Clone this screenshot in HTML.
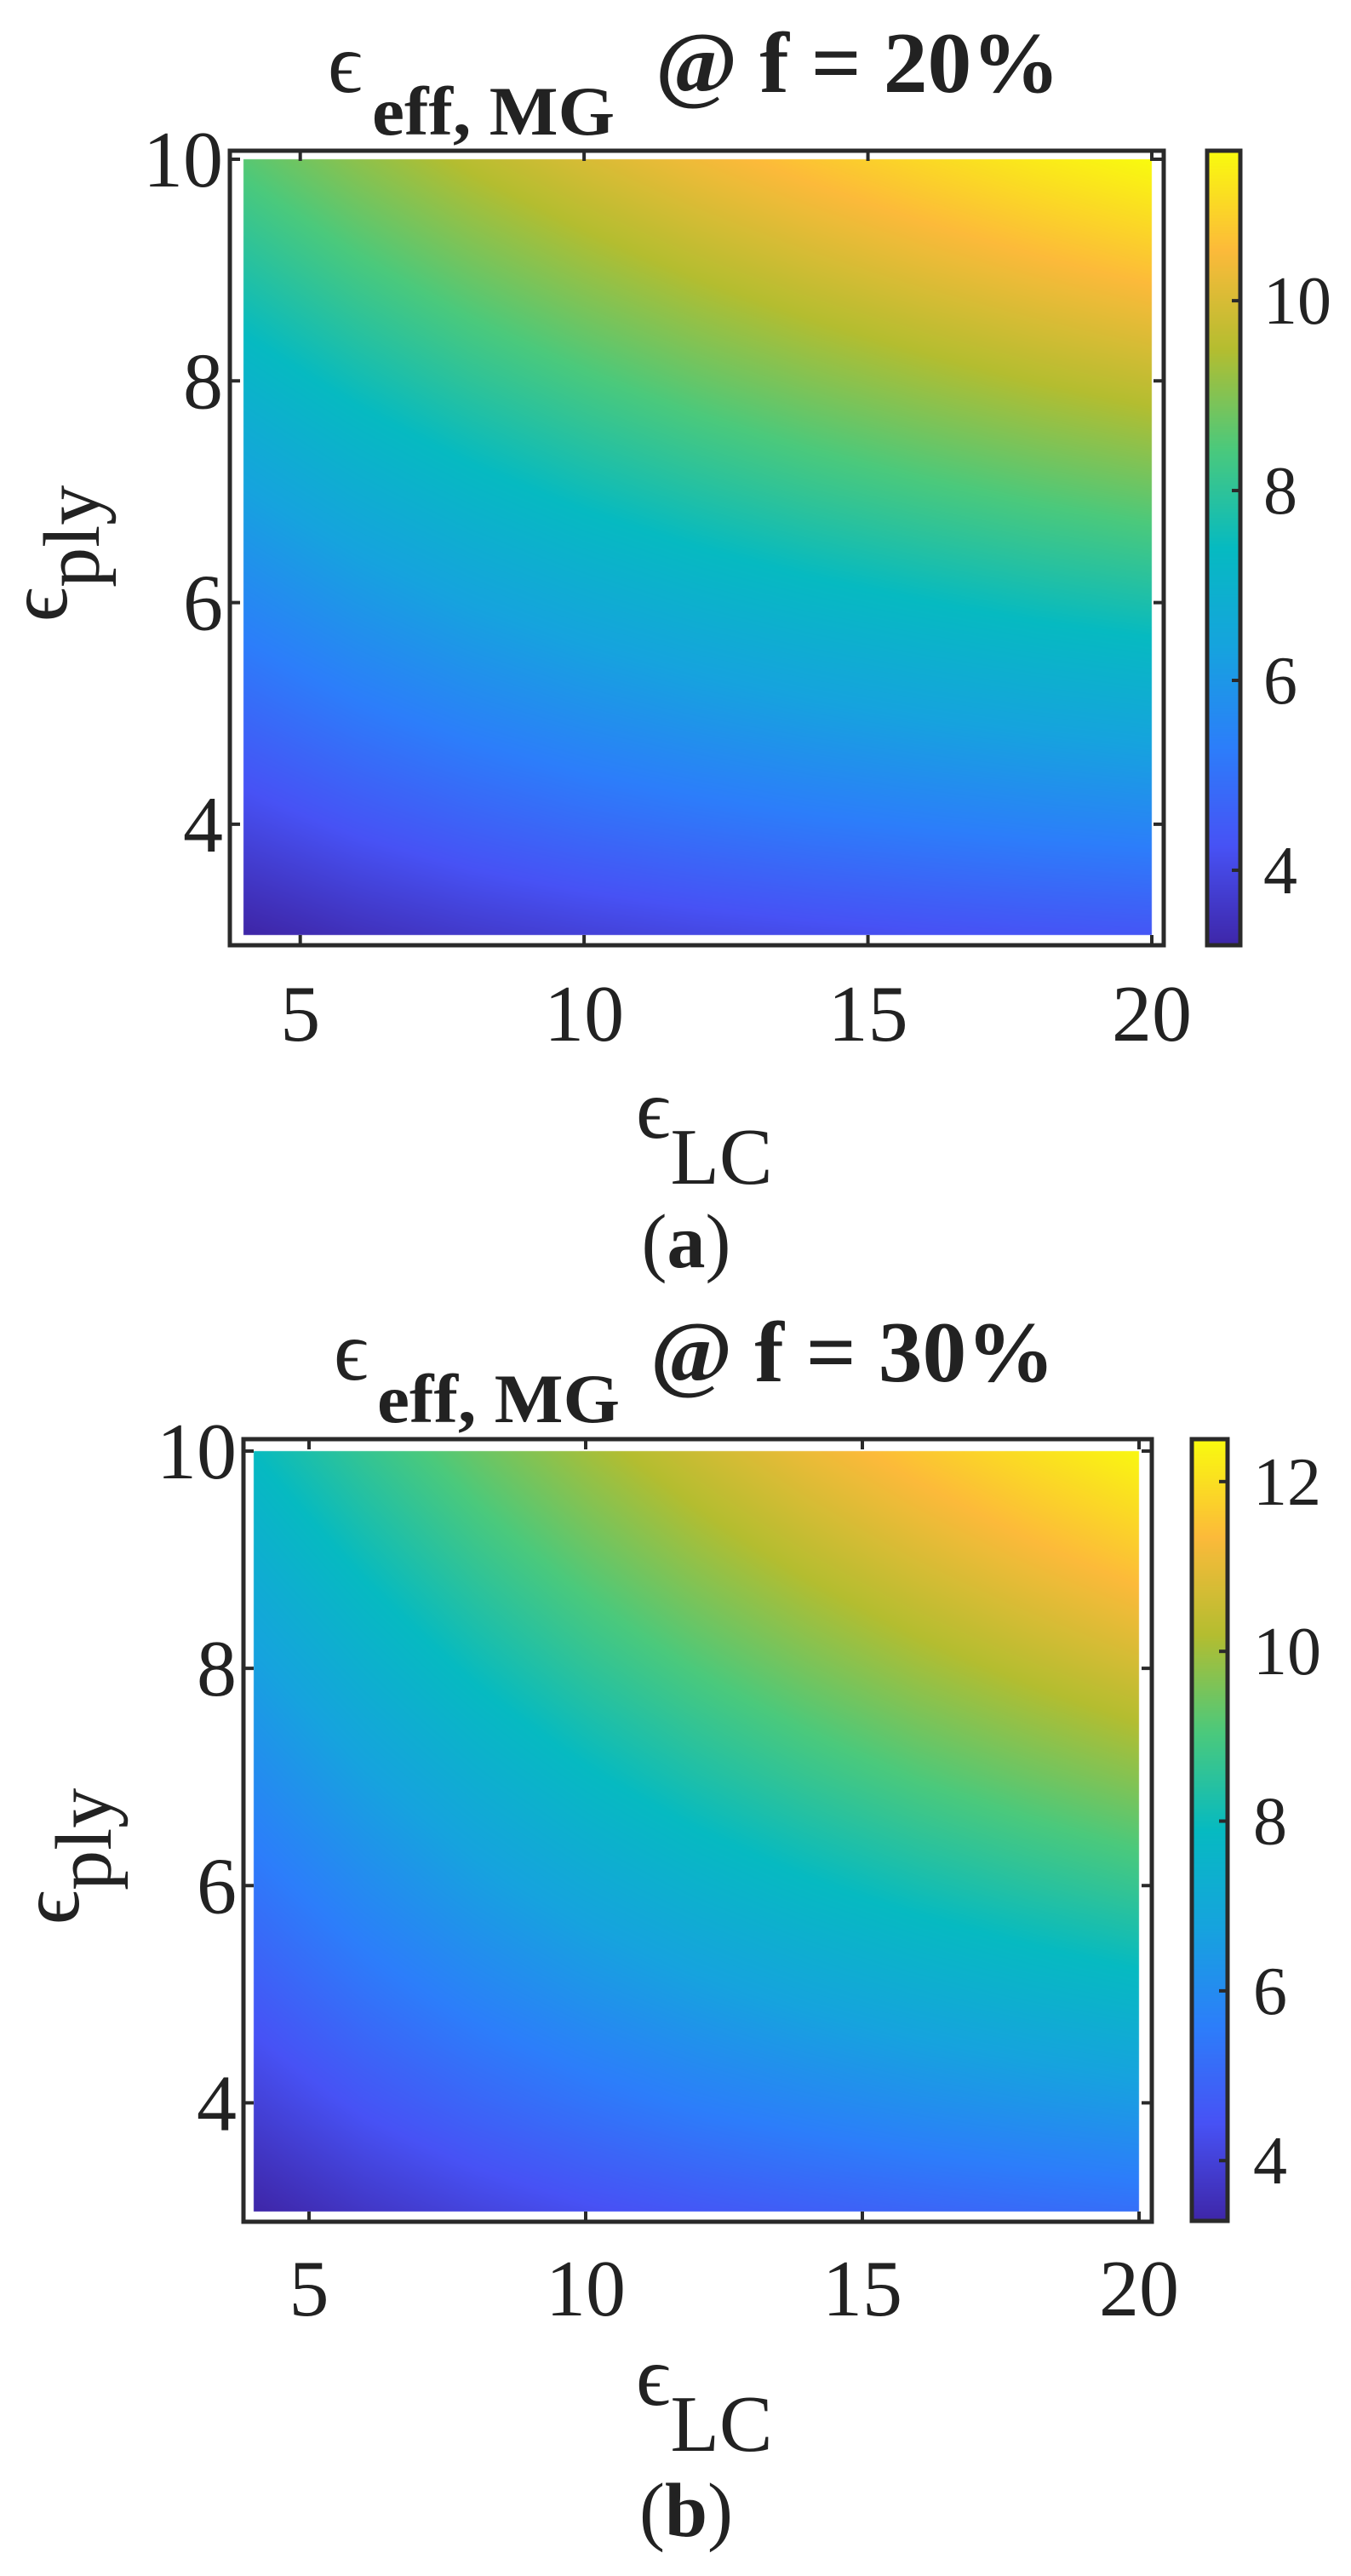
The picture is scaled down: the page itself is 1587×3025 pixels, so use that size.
<!DOCTYPE html>
<html><head><meta charset="utf-8"><style>
html,body{margin:0;padding:0;background:#fff;}
#wrap{position:relative;width:1587px;height:3025px;overflow:hidden;}
canvas,svg{position:absolute;left:0;top:0;}
text{font-family:"Liberation Serif","DejaVu Serif",serif;fill:#222;}
</style></head><body>
<div id="wrap">
<canvas id="cv" width="1587" height="3025"></canvas>
<svg id="sv" width="1587" height="3025" xmlns="http://www.w3.org/2000/svg"></svg>
</div>
<script>
// ---- data ----
const xCats = [4,6,8,10,12,14,16,18,20];      // epsilon_LC grid
const yCats = [3,4,5,6,7,8,9,10];             // epsilon_ply grid
const xTicks = [5,10,15,20];
const yTicks = [4,6,8,10];
// plot (a) f=20%, rows by epsilon_ply (3..10), columns by epsilon_LC (4..20)
const valsA = [
 [3.18,3.47,3.69,3.86,4.00,4.11,4.21,4.29,4.35],
 [4.00,4.35,4.63,4.86,5.04,5.20,5.33,5.45,5.55],
 [4.79,5.19,5.52,5.79,6.02,6.22,6.39,6.54,6.67],
 [5.56,6.00,6.37,6.68,6.95,7.18,7.38,7.57,7.73],
 [6.32,6.79,7.19,7.54,7.84,8.11,8.34,8.55,8.74],
 [7.08,7.57,8.00,8.37,8.71,9.00,9.26,9.50,9.71],
 [7.83,8.34,8.79,9.19,9.55,9.87,10.16,10.42,10.66],
 [8.57,9.10,9.58,10.00,10.38,10.72,11.03,11.32,11.58]
];
// plot (b) f=30%
const valsB = [
 [3.28,3.73,4.08,4.36,4.59,4.78,4.94,5.08,5.20],
 [4.00,4.54,4.97,5.33,5.64,5.89,6.12,6.31,6.48],
 [4.69,5.29,5.79,6.22,6.58,6.90,7.18,7.43,7.65],
 [5.35,6.00,6.56,7.04,7.46,7.83,8.16,8.45,8.72],
 [6.00,6.69,7.29,7.82,8.29,8.70,9.08,9.41,9.72],
 [6.64,7.36,8.00,8.57,9.07,9.53,9.95,10.32,10.67],
 [7.28,8.02,8.69,9.29,9.84,10.33,10.78,11.19,11.57],
 [7.91,8.68,9.37,10.00,10.57,11.10,11.58,12.02,12.43]
];
const cbTicksA = [4,6,8,10];
const cbTicksB = [4,6,8,10,12];
const cbRangeA = [3.21,11.58];
const cbRangeB = [3.29,12.5];
const titleA = "@ f = 20%";
const titleB = "@ f = 30%";

// ---- layout (pixels) ----
const plots = [
 {id:'a', vals:valsA, cbTicks:cbTicksA, cbRange:cbRangeA, title:titleA, label:'a',
  box:[270,177,1367,1110], data:[286,187,1353,1098], cb:[1418,177,1457,1110], cbLab:1484,
  xLabY:1222, tEps:[385,108], tSub:[437,158], tAt:[770,108], yl:[78,650], xl:[747,1336], cap:1488},
 {id:'b', vals:valsB, cbTicks:cbTicksB, cbRange:cbRangeB, title:titleB, label:'b',
  box:[286,1690,1353,2609], data:[298,1704,1338,2597], cb:[1400,1690,1442,2608], cbLab:1472,
  xLabY:2719, tEps:[392,1620], tSub:[443,1670], tAt:[764,1622], yl:[92,2180], xl:[747,2824], cap:2978}
];

const stops=[[0,[62,38,168]],[0.125,[71,82,245]],[0.25,[44,126,250]],[0.375,[22,163,222]],
 [0.5,[6,186,193]],[0.625,[75,201,124]],[0.75,[180,189,48]],[0.875,[252,186,58]],[1,[249,251,14]]];
function parula(t){t=Math.max(0,Math.min(1,t));for(let i=1;i<stops.length;i++){if(t<=stops[i][0]){const a=stops[i-1],b=stops[i];const u=(t-a[0])/(b[0]-a[0]);return [0,1,2].map(k=>Math.round(a[1][k]+(b[1][k]-a[1][k])*u));}}return stops[stops.length-1][1];}

const NS="http://www.w3.org/2000/svg";
const svg=document.getElementById('sv');
const ctx=document.getElementById('cv').getContext('2d');
function mk(tag,attrs,parent){const e=document.createElementNS(NS,tag);for(const k in attrs)e.setAttribute(k,attrs[k]);(parent||svg).appendChild(e);return e;}

function sample(vals,xv,yv){
  let i=0;while(i<xCats.length-2&&xv>xCats[i+1])i++;
  let j=0;while(j<yCats.length-2&&yv>yCats[j+1])j++;
  const u=(xv-xCats[i])/(xCats[i+1]-xCats[i]), w=(yv-yCats[j])/(yCats[j+1]-yCats[j]);
  const a=vals[j][i],b=vals[j][i+1],c=vals[j+1][i],d=vals[j+1][i+1];
  return (a*(1-u)+b*u)*(1-w)+(c*(1-u)+d*u)*w;
}

plots.forEach(p=>{
  const [dx0,dy0,dx1,dy1]=p.data;
  const xMin=xCats[0],xMax=xCats[xCats.length-1],yMin=yCats[0],yMax=yCats[yCats.length-1];
  const xs=v=>dx0+(v-xMin)/(xMax-xMin)*(dx1-dx0);
  const ys=v=>dy1-(v-yMin)/(yMax-yMin)*(dy1-dy0);
  const xinv=px=>xMin+(px-dx0)/(dx1-dx0)*(xMax-xMin);
  const yinv=py=>yMin+(dy1-py)/(dy1-dy0)*(yMax-yMin);
  const [c0,c1]=p.cbRange;
  const W=dx1-dx0,H=dy1-dy0;const img=ctx.createImageData(W,H);
  for(let py=0;py<H;py++){const yv=yinv(dy0+py+0.5);for(let px=0;px<W;px++){
    const v=sample(p.vals,xinv(dx0+px+0.5),yv);const c=parula((v-c0)/(c1-c0));const o=(py*W+px)*4;
    img.data[o]=c[0];img.data[o+1]=c[1];img.data[o+2]=c[2];img.data[o+3]=255;}}
  ctx.putImageData(img,dx0,dy0);
  const [bx0,by0,bx1,by1]=p.cb;const cs=v=>by1-(v-c0)/(c1-c0)*(by1-by0);
  for(let py=by0;py<by1;py++){const v=c0+(by1-py)/(by1-by0)*(c1-c0);const c=parula((v-c0)/(c1-c0));ctx.fillStyle=`rgb(${c[0]},${c[1]},${c[2]})`;ctx.fillRect(bx0,py,bx1-bx0,1);}

  const g=mk('g',{});
  
  
  const [ax0,ay0,ax1,ay1]=p.box;
  const frame=mk('rect',{x:ax0,y:ay0,width:ax1-ax0,height:ay1-ay0,fill:'none',stroke:'#2a2a2a','stroke-width':5},g);
  
  
  xTicks.forEach(t=>{
    const x=xs(t);
    const tk=mk('path',{d:`M${x},${ay1}v-12M${x},${ay0}v12`,stroke:'#2a2a2a','stroke-width':4},g);
    
    
    const tl=mk('text',{x:x,y:p.xLabY,'font-size':94,'text-anchor':'middle'},g);tl.textContent=t;
    
    
  });
  yTicks.forEach(t=>{
    const y=ys(t);
    const tk=mk('path',{d:`M${ax0},${y}h12M${ax1},${y}h-12`,stroke:'#2a2a2a','stroke-width':4},g);
    
    
    const tl=mk('text',{x:ax0-8,y:y+32,'font-size':94,'text-anchor':'end'},g);tl.textContent=t;
    
    
  });
  const cbf=mk('rect',{x:bx0,y:by0,width:bx1-bx0,height:by1-by0,fill:'none',stroke:'#2a2a2a','stroke-width':5},g);
  
  
  p.cbTicks.forEach(t=>{
    const y=cs(t);
    const tk=mk('path',{d:`M${bx1},${y}h-10`,stroke:'#2a2a2a','stroke-width':4},g);
    
    
    const tl=mk('text',{x:p.cbLab,y:y+27,'font-size':80},g);tl.textContent=t;
    
    
  });
  const te=mk('text',{x:p.tEps[0],y:p.tEps[1],'font-size':100},g);te.textContent='ϵ';
  
  
  const ts=mk('text',{x:p.tSub[0],y:p.tSub[1],'font-size':82,'font-weight':'bold',textLength:285,lengthAdjust:'spacingAndGlyphs'},g);ts.textContent='eff, MG';
  
  
  const ta=mk('text',{x:p.tAt[0],y:p.tAt[1],'font-size':102,'font-weight':'bold',textLength:475,lengthAdjust:'spacingAndGlyphs'},g);ta.textContent=p.title;
  
  
  const yl=mk('text',{transform:`translate(${p.yl[0]},${p.yl[1]}) rotate(-90)`,'font-size':100,'text-anchor':'middle'},g);
  
  
  const e1=mk('tspan',{},yl);e1.textContent='ϵ';
  const e2=mk('tspan',{dy:38,'font-size':94},yl);e2.textContent='ply';
  const xl=mk('text',{x:p.xl[0],y:p.xl[1],'font-size':100},g);
  
  
  const f1=mk('tspan',{},xl);f1.textContent='ϵ';
  const f2=mk('tspan',{dy:54,'font-size':94},xl);f2.textContent='LC';
  const cp=mk('text',{x:806,y:p.cap,'font-size':90,'text-anchor':'middle'},g);
  
  
  const q1=mk('tspan',{},cp);q1.textContent='(';
  const q2=mk('tspan',{'font-weight':'bold'},cp);q2.textContent=p.label;
  const q3=mk('tspan',{},cp);q3.textContent=')';
});
</script>
</body></html>
